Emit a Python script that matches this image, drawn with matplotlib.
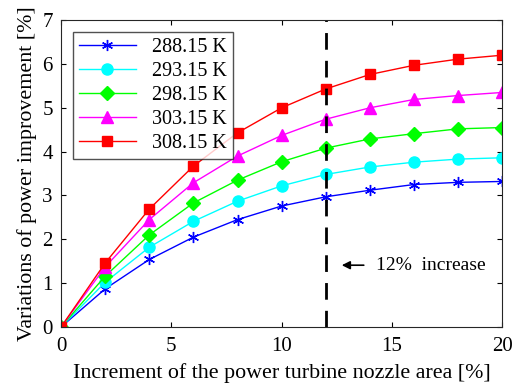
import numpy as np
import matplotlib.pyplot as plt

plt.rcParams['font.family'] = ['Liberation Serif', 'DejaVu Serif']
plt.rcParams['mathtext.fontset'] = 'stix'

area = [0, 2, 4, 6, 8, 10, 12, 14, 16, 18, 20]
labels = ['288.15 K', '293.15 K', '298.15 K', '303.15 K', '308.15 K']
t288 = [0, 0.87, 1.54, 2.05, 2.45, 2.76, 2.97, 3.12, 3.25, 3.30, 3.32]
t293 = [0, 1.02, 1.82, 2.41, 2.87, 3.22, 3.48, 3.65, 3.76, 3.83, 3.86]
t298 = [0, 1.16, 2.10, 2.83, 3.35, 3.77, 4.08, 4.29, 4.41, 4.52, 4.55]
t303 = [0, 1.37, 2.45, 3.29, 3.90, 4.37, 4.74, 5.00, 5.19, 5.28, 5.35]
t308 = [0, 1.46, 2.69, 3.67, 4.43, 5.00, 5.43, 5.76, 5.97, 6.11, 6.20]

fig = plt.figure(figsize=(5.13, 3.87), dpi=100)
ax = fig.add_axes([0.119, 0.155, 0.86, 0.793])

ax.plot(area, t288, color='b', marker=(6, 2, 0), ms=8, lw=1, label=labels[0])
ax.plot(area, t293, color='cyan', marker='o', ms=8, lw=1, label=labels[1])
ax.plot(area, t298, color='lime', marker='D', ms=7, lw=1, label=labels[2])
ax.plot(area, t303, color='magenta', marker='^', ms=9, lw=1, label=labels[3])
ax.plot(area, t308, color='r', marker='s', ms=7, lw=1, label=labels[4])

ax.axvline(12, color='k', ls=(0, (6, 4)), lw=2)
ax.annotate('', xy=(12.6, 1.41), xytext=(13.85, 1.41),
            arrowprops=dict(arrowstyle='-|>', color='k', lw=1.2, mutation_scale=12))
ax.text(14.3, 1.41, '12%  increase', fontsize=14, va='center')

ax.set_xlim(0, 20)
ax.set_ylim(0, 7)
ax.set_xticks([0, 5, 10, 15, 20])
ax.set_yticks(range(8))
ax.tick_params(direction='in', top=True, right=True, labelsize=15)
ax.tick_params(axis='x', pad=7)
ax.tick_params(axis='y', pad=6)
for s in ax.spines.values():
    s.set_color('#262626')
ax.set_xlabel('Increment of the power turbine nozzle area [%]', fontsize=15.8, labelpad=5)
ax.set_ylabel('Variations of power improvement [%]', fontsize=15.8, labelpad=4)
ax.legend(loc='upper left', fontsize=14.5, fancybox=False, edgecolor='#262626',
          handlelength=2.8, borderaxespad=0.6, labelspacing=0.24, borderpad=0.3)

fig.savefig('out.png', dpi=100)
